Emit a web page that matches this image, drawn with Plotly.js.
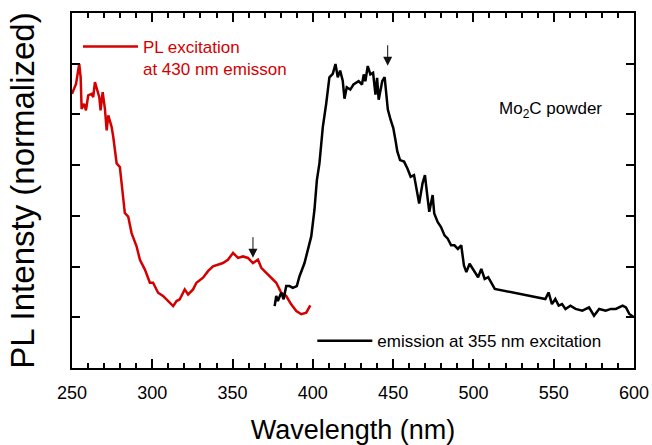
<!DOCTYPE html>
<html>
<head>
<meta charset="utf-8">
<script src="https://cdn.plot.ly/plotly-3.0.1.min.js"></script>
<style>html,body{margin:0;padding:0;background:#fff;}#chart{width:652px;height:445px;}</style>
</head>
<body>
<div id="chart"></div>
<script>
// PL excitation (430 nm emission) – red
var excWavelength = [250,252.5,254.5,255.4,256,257.5,258.7,260.1,262.2,263.2,264.3,265.7,267,267.8,269.1,270.5,271.6,272.6,273.6,274.7,275.7,277.8,279.8,280.9,282.9,285,287.1,290.2,292.3,295.4,298.5,300.5,303.6,306.7,309.9,313,315.1,317.1,320.2,322.3,325.4,327.5,331.6,334.7,337.8,340.9,344,347.1,350.3,353.4,356.5,359.6,362.7,365.8,367.9,371,374.1,377.2,380.3,383.4,386.5,389.7,392.8,395.9,398.4];
var excIntensity = [0.881,0.920,0.999,0.946,0.822,0.842,0.816,0.875,0.881,0.868,0.927,0.894,0.868,0.816,0.888,0.822,0.737,0.796,0.770,0.750,0.711,0.607,0.593,0.528,0.411,0.397,0.332,0.280,0.227,0.188,0.136,0.136,0.097,0.084,0.064,0.044,0.064,0.071,0.110,0.090,0.110,0.136,0.156,0.182,0.201,0.208,0.214,0.227,0.254,0.234,0.240,0.234,0.214,0.227,0.195,0.175,0.156,0.136,0.097,0.084,0.051,0.025,0.012,0.018,0.047];

// Emission (355 nm excitation) – black
var emWavelength = [376.2,377.2,378.2,380.3,381.8,383.4,385.5,387.5,390,391.7,394.8,396.9,399,401,402.5,404.1,406.2,408.3,410.3,412.4,414.1,415.5,417,418.6,419.7,421.1,423.3,425.3,428.5,430.6,431.7,432.7,434.2,435.8,437.5,439,440,441,442.1,443.2,444.7,445.9,446.7,448.4,450.1,451.6,452.6,454.3,456.8,458.9,460.9,463,464.7,466.2,468.3,469.8,471,472.5,474.6,475.6,477.7,479.8,482,484,486.1,488.2,490.3,492.4,494.1,495.6,497.6,499.7,502.9,504.9,507,509.2,512.3,513.3,544.8,546.8,548.9,551,553.1,555.2,557.3,560.4,563.6,567.8,572,575.1,578.3,582.4,585.6,588.7,592.9,595,597.1,600];
var emIntensity = [0.044,0.084,0.064,0.097,0.071,0.123,0.123,0.116,0.123,0.162,0.214,0.267,0.319,0.424,0.541,0.607,0.750,0.842,0.946,0.960,0.999,0.946,0.973,0.933,0.862,0.907,0.898,0.918,0.931,0.918,0.958,0.931,0.991,0.958,0.964,0.878,0.944,0.858,0.891,0.931,0.947,0.878,0.819,0.779,0.746,0.693,0.654,0.620,0.614,0.587,0.554,0.561,0.508,0.449,0.528,0.561,0.495,0.416,0.482,0.409,0.376,0.356,0.323,0.310,0.284,0.284,0.270,0.284,0.204,0.178,0.211,0.191,0.158,0.191,0.151,0.158,0.125,0.112,0.072,0.098,0.052,0.072,0.046,0.052,0.033,0.046,0.033,0.026,0.039,0.006,0.033,0.026,0.033,0.033,0.046,0.039,0.013,0.000];

// Peak markers (arrows)
var arrowWavelength = [362.7, 446.6];
var arrowIntensity = [0.235, 0.992];

var FONT = 'Arial, "Liberation Sans", sans-serif';

var traces = [
  {x: excWavelength, y: excIntensity, type: 'scatter', mode: 'lines',
   name: 'PL excitation<br>at 430 nm emisson', legend: 'legend',
   line: {color: '#d40000', width: 2.5}},
  {x: emWavelength, y: emIntensity, type: 'scatter', mode: 'lines',
   name: 'emission at 355 nm excitation', legend: 'legend2',
   line: {color: '#000000', width: 2.5}}
];

var annotations = arrowWavelength.map(function(w, i){
  return {x: w, y: arrowIntensity[i], xref: 'x', yref: 'y', text: '', showarrow: true,
          ax: 0, ay: -22, arrowhead: 2, arrowsize: 1.8, arrowwidth: 1, arrowcolor: '#111'};
});
annotations.push({xref: 'paper', yref: 'paper', x: 0.757, y: 0.727, xanchor: 'left', yanchor: 'middle',
  text: 'Mo<sub>2</sub>C powder', showarrow: false, font: {family: FONT, size: 17, color: '#000'}});

var layout = {
  width: 652, height: 445,
  margin: {l: 72, r: 18, t: 13, b: 77},
  showlegend: true,
  xaxis: {
    range: [250, 600], dtick: 50,
    ticks: 'inside', ticklen: 9, tickwidth: 2, tickcolor: '#000',
    minor: {dtick: 10, ticks: 'inside', ticklen: 5, tickwidth: 2, tickcolor: '#000'},
    showline: true, linecolor: '#000', linewidth: 1.5, mirror: 'allticks',
    showgrid: false, zeroline: false,
    tickfont: {size: 18, family: FONT, color: '#000'}, ticklabelstandoff: 8,
    title: {text: 'Wavelength (nm)', font: {size: 27, family: FONT, color: '#000'}, standoff: 22}
  },
  yaxis: {
    range: [-0.2, 1.2], dtick: 0.2, showticklabels: false,
    ticks: 'inside', ticklen: 8, tickwidth: 1.5, tickcolor: '#000',
    showline: true, linecolor: '#000', linewidth: 1.5, mirror: 'allticks',
    showgrid: false, zeroline: false,
    title: {text: 'PL Intensty (normalized)', font: {size: 33, family: FONT, color: '#000'}, standoff: 26}
  },
  legend: {x: 0.0106, y: 0.955, xanchor: 'left', yanchor: 'top', valign: 'top', itemwidth: 55,
    bgcolor: 'rgba(0,0,0,0)', font: {size: 17, family: FONT, color: '#d40000'}},
  legend2: {x: 0.4276, y: 0.126, xanchor: 'left', yanchor: 'top', itemwidth: 55,
    bgcolor: 'rgba(0,0,0,0)', font: {size: 17, family: FONT, color: '#000'}},
  annotations: annotations
};

Plotly.newPlot('chart', traces, layout, {displayModeBar: false});
</script>
</body>
</html>
